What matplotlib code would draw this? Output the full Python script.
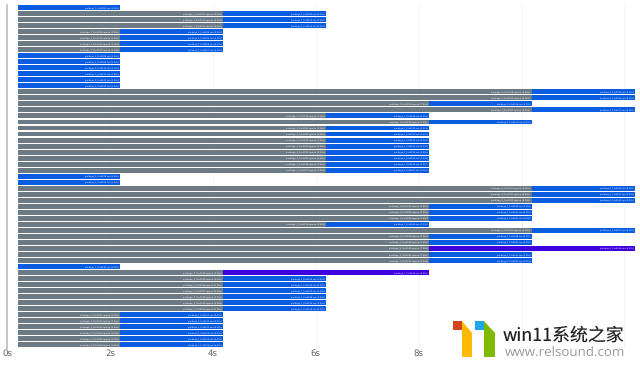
import matplotlib
matplotlib.use("Agg")
import matplotlib.pyplot as plt
from matplotlib.patches import Polygon

plt.rcParams["text.hinting"] = "none"

BLUE = "#0a5ce0"
GRAY = "#6c7a86"
PURPLE = "#3f00e0"

start = 0.21
# end of the queue part, 0 means there is none
queue_end = [0, 4.2, 4.2, 4.2, 2.2, 2.2, 2.2, 2.2, 0, 0, 0, 0, 0, 0,
             10.2, 10.2, 8.2, 10.2, 6.2, 8.2,
             6.2, 6.2, 6.2, 6.2, 6.2, 6.2, 6.2, 6.2, 0, 0,
             10.2, 10.2, 10.2, 8.2, 8.2, 8.2, 6.2, 10.2, 8.2, 8.2, 8.2, 8.2, 8.2, 0,
             4.2, 4.2, 4.2, 4.2, 4.2, 4.2, 4.2,
             2.2, 2.2, 2.2, 2.2, 2.2, 2.2]
run_end = [2.2, 6.2, 6.2, 6.2, 4.2, 4.2, 4.2, 4.2, 2.2, 2.2, 2.2, 2.2, 2.2, 2.2,
           12.2, 12.2, 10.2, 12.2, 8.2, 10.2,
           8.2, 8.2, 8.2, 8.2, 8.2, 8.2, 8.2, 8.2, 2.2, 2.2,
           12.2, 12.2, 12.2, 10.2, 10.2, 10.2, 8.2, 12.2, 10.2, 10.2, 12.2, 10.2, 10.2, 2.2,
           8.2, 6.2, 6.2, 6.2, 6.2, 6.2, 6.2,
           4.2, 4.2, 4.2, 4.2, 4.2, 4.2]
slow_rows = [40, 44]
ticks = [0, 2, 4, 6, 8, 10, 12]

W, H = 640, 366
fig = plt.figure(figsize=(W / 100, H / 100), dpi=100)
ax = fig.add_axes([7 / W, 1 - 348.5 / H, 633 / W, 344 / H])

n = len(run_end)
ax.set_xlim(0, 633 / 51.45)
ax.set_ylim(n - 0.4, -0.5)

for x in ticks:
    ax.axvline(x, color="#f2f2f2", lw=0.6, zorder=0)

for i in range(n):
    q = queue_end[i]
    run_start = start
    if q > 0:
        ax.barh(i, q - start, left=start, height=0.82, color=GRAY, lw=0, zorder=2)
        ax.text(q - 0.03, i, f"package_1_file{i:04d}.queue ({q - start:.2f}s)",
                fontsize=1.65, color="white", ha="right", va="center", zorder=3)
        run_start = q
    color = PURPLE if i in slow_rows else BLUE
    ax.barh(i, run_end[i] - run_start, left=run_start, height=0.82, color=color, lw=0, zorder=2)
    ax.text(run_end[i] - 0.03, i, f"package_1_file{i:04d}.run ({run_end[i] - run_start:.2f}s)",
            fontsize=1.55, color="white", ha="right", va="center", zorder=3)

for s in ["top", "right", "bottom"]:
    ax.spines[s].set_visible(False)
ax.spines["left"].set_color("#bdbdbd")
ax.spines["left"].set_linewidth(1.2)
ax.set_yticks([])
ax.set_xticks(ticks[:5])
ax.set_xticklabels([f"{t}s" for t in ticks[:5]], fontsize=6.2, color="#666666")
ax.tick_params(axis="x", length=0, pad=0.5)

# watermark in the lower right corner
def px(points):
    return [(x / W, 1 - y / H) for x, y in points]

logo = [
    ([(453, 321), (462, 321), (462, 330), (453, 330)], "#d2451e"),
    ([(462, 321), (472, 333), (472, 357), (462, 357)], "#ffb900"),
    ([(475, 321), (484, 321), (484, 330), (475, 330)], "#1ea7f0"),
    ([(484, 321), (495, 333), (495, 357), (484, 357)], "#7fba00"),
]
for pts, c in logo:
    fig.add_artist(Polygon(px(pts), closed=True, color=c, lw=0))

fig.text(503 / W, 1 - 335 / H, "win11系统之家", fontsize=12.9, color="#222222", va="center",
         family=["Noto Sans CJK SC", "DejaVu Sans"])
fig.text(505 / W, 1 - 353 / H, "www.relsound.com", fontsize=9.6, color="#999999", va="center",
         family=["Open Sans", "DejaVu Sans"])

fig.savefig("out.png", dpi=100)
